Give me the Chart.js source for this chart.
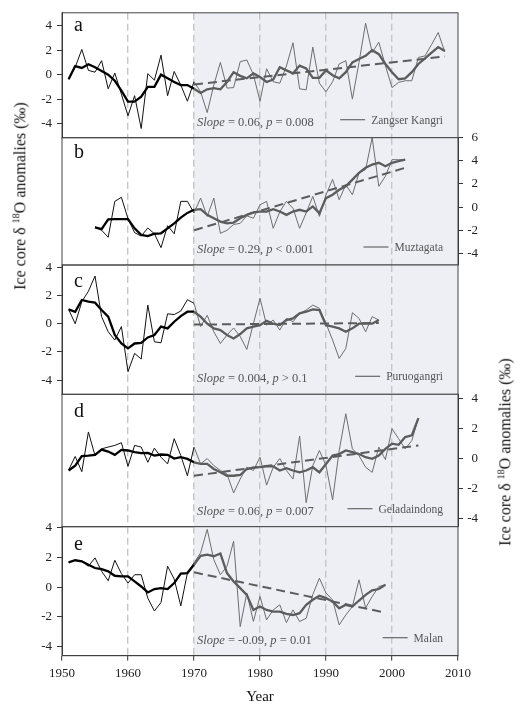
<!DOCTYPE html>
<html>
<head>
<meta charset="utf-8">
<script src="https://cdn.jsdelivr.net/npm/chart.js@4.4.1/dist/chart.umd.min.js"></script>
<style>
  body { margin: 0; background: #fff; }
  #wrap { position: relative; width: 520px; height: 709px; }
  #wrap canvas { position: absolute; left: 0; top: 0; }
  .ytitle {
    position: absolute; white-space: nowrap; color: #111;
    font-family: "Liberation Serif", serif; font-size: 16px;
    transform: translate(-50%, -50%) rotate(-90deg);
  }
  .ytitle sup { font-size: 10px; }
</style>
</head>
<body>
<div id="wrap">
  <canvas id="pa" width="520" height="709"></canvas>
  <canvas id="pb" width="520" height="709"></canvas>
  <canvas id="pc" width="520" height="709"></canvas>
  <canvas id="pd" width="520" height="709"></canvas>
  <canvas id="pe" width="520" height="709"></canvas>
  <div class="ytitle" style="left:20px;top:196px">Ice core δ&nbsp;<sup>18</sup>O anomalies (‰)</div>
  <div class="ytitle" style="left:505px;top:452px">Ice core δ&nbsp;<sup>18</sup>O anomalies (‰)</div>
</div>
<script>
// years on the x axis
const decades = [1950, 1960, 1970, 1980, 1990, 2000, 2010];
const shadeFrom = 1970;

// a - Zangser Kangri, 1951-2008
const startA = 1951;
const thinA = [-0.37, 0.6, 2.06, 0.35, 0.2, 1.14, -1.16, 0.13, -1.6, -3.36,
  -1.72, -4.4, 0.08, -0.45, 1.59, -1.72, 0.26, -0.85, -2.17, -0.58,
  -1.4, -3.1, -0.85, 1.0, -1.1, -1.06, 1.06, 1.2, 0.0, -2.17,
  0.48, -0.58, -0.7, 0.7, 2.6, -1.16, -1.24, 2.25, -0.7, -1.4,
  -0.58, 0.87, 1.14, -2.0, 1.0, 4.2, 1.8, 2.65, 0.74, -1.06,
  -0.63, -0.5, -0.5, 1.4, 1.53, 2.46, 3.44, 1.85];
const smoothA = [-0.37, 0.7, 0.55, 0.85, 0.6, 0.3, 0.0, -0.5, -1.3, -2.2,
  -2.2, -1.8, -1.0, -1.0, 0.0, -0.3, -0.6, -0.85, -0.85, -1.16,
  -1.5, -1.2, -1.1, -1.2, -0.6, 0.2, -0.1, -0.3, 0.1, -0.2,
  -0.6, -0.4, 0.6, 0.35, 0.1, 0.74, 0.5, -0.26, -0.26, 0.35,
  -0.05, -0.3, 0.2, 1.0, 1.27, 1.53, 2.0, 1.67, 0.87, 0.2,
  -0.37, -0.3, 0.2, 0.87, 1.32, 1.8, 2.25, 1.93];
const trendA = [-0.8, 1.48];
const ticksA = [-4, -2, 0, 2, 4];

// b - Muztagata, 1955-2002
const startB = 1955;
const thinB = [-1.7, -2.0, -2.6, 0.5, 0.85, -1.0, -2.2, -2.5, -1.8, -2.3,
  -3.5, -1.6, -2.3, 0.5, 0.5, -0.5, 0.78, -0.8, 0.78, -2.26,
  -2.0, -1.5, -1.4, -0.75, -0.96, 0.2, 0.5, -1.83, -0.4, 0.5,
  -0.1, -1.83, -0.5, 0.93, -0.8, 1.07, 2.4, 0.64, 1.94, 1.07,
  2.96, 3.25, 6.0, 1.8, 2.67, 4.1, 4.1, 4.1];
const smoothB = [-1.74, -1.9, -1.05, -1.04, -1.04, -1.04, -1.83, -2.4, -2.5, -2.3,
  -2.26, -1.83, -1.4, -0.9, -0.5, -0.23, -0.17, -0.67, -0.96, -1.25,
  -1.4, -1.33, -0.96, -0.67, -0.46, -0.38, -0.38, -0.17, -0.38, -0.67,
  -0.38, -0.23, -0.38, 0.06, -0.52, 0.78, 1.07, 1.5, 1.8, 2.38,
  2.96, 3.4, 3.68, 3.83, 3.54, 3.83, 3.97, 4.1];
const trendB = [-2.0, 3.4];
const ticksB = [-4, -2, 0, 2, 4, 6];

// c - Puruogangri, 1951-1998
const startC = 1951;
const thinC = [1.02, 0.0, 1.56, 2.3, 3.38, 0.5, -0.57, -1.16, -0.2, -3.4,
  -2.1, -2.5, 1.32, -1.28, -1.35, 0.7, 0.65, 0.9, 1.7, 1.45,
  -0.2, 0.6, -0.57, -1.4, -0.8, -0.3, -0.9, -1.82, 0.0, 1.8,
  -0.1, 0.26, -0.45, 0.38, 0.14, 0.73, 0.97, 1.32, 1.09, 0.02,
  -1.16, -2.46, -1.75, 0.78, 0.38, -0.57, 0.5, 0.26];
const smoothC = [1.02, 0.85, 1.68, 1.56, 1.49, 0.97, 0.5, -0.8, -1.39, -1.75,
  -1.4, -1.35, -0.97, -0.8, -0.2, -0.33, 0.14, 0.54, 0.85, 0.85,
  0.5, 0.0, -0.33, -0.45, -0.8, -1.04, -0.73, -0.33, -0.2, -0.1,
  0.2, 0.0, -0.1, 0.26, 0.38, 0.73, 0.85, 1.02, 0.97, -0.1,
  -0.2, -0.33, -0.57, -0.33, 0.0, 0.0, 0.0, 0.26];
const trendC = [-0.06, 0.05];
const ticksC = [-4, -2, 0, 2, 4];

// d - Geladaindong, 1951-2004
const startD = 1951;
const thinD = [-0.77, 0.14, -0.88, 1.78, 0.2, 0.65, 0.77, 0.88, 1.06, -0.52,
  0.88, 0.77, -0.25, 0.7, 0.09, -0.36, 1.33, 0.2, -1.15, 0.77,
  -0.36, 0.0, -0.47, -0.8, -1.04, -2.3, -1.37, -0.58, -0.8, 0.09,
  -1.78, -0.58, 0.0, -0.8, -1.37, 1.5, -2.95, -0.47, 0.54, -0.47,
  -2.77, 0.54, 3.0, 0.65, 0.2, -0.58, -0.92, 0.77, -0.07, 2.0,
  1.33, 0.65, 1.2, 2.7];
const smoothD = [-0.8, -0.47, 0.16, 0.2, 0.25, 0.6, 0.47, 0.25, 0.58, 0.54,
  0.43, 0.36, 0.38, 0.2, 0.27, 0.25, 0.0, 0.09, -0.02, -0.25,
  -0.36, -0.36, -0.7, -0.92, -1.15, -1.15, -1.1, -0.7, -0.6, -0.58,
  -0.52, -0.52, -0.8, -0.65, -0.8, -0.92, -0.8, -0.58, -0.92, -0.36,
  0.2, 0.3, 0.54, 0.43, 0.3, 0.09, -0.02, 0.2, 0.65, 1.0,
  0.92, 1.44, 1.55, 2.7];
const trendD = [-1.15, 0.88];
const ticksD = [-4, -2, 0, 2, 4];

// e - Malan, 1951-1999
const startE = 1951;
const thinE = [1.66, 1.8, 1.73, 1.4, 1.96, 1.06, 0.43, 1.8, 0.9, 0.27,
  0.83, 0.83, -0.74, -1.6, -1.03, 1.4, 0.54, -1.26, 0.94, 1.62,
  2.3, 3.87, 1.84, 0.83, 1.4, 3.08, -2.65, -0.4, -2.3, -0.63,
  -2.2, -1.53, -1.19, -2.38, -1.53, -2.31, -2.09, -0.5, 0.6, -0.4,
  -0.85, -2.54, -1.87, -1.3, 0.49, -1.4, -0.63, 0.04, 0.16];
const smoothE = [1.66, 1.8, 1.73, 1.5, 1.28, 1.2, 1.06, 0.76, 0.72, 0.72,
  0.38, 0.04, -0.36, -0.13, -0.07, -0.13, 0.27, 0.9, 0.94, 1.5,
  2.1, 2.18, 2.07, 2.25, 0.94, 0.38, -0.07, -0.52, -1.53, -1.3,
  -1.53, -1.64, -1.64, -1.8, -1.87, -1.75, -1.19, -0.85, -0.58, -0.74,
  -0.97, -1.42, -1.19, -1.3, -0.9, -0.52, -0.22, -0.13, 0.16];
const trendE = [0.99, -1.71];
const ticksE = [-4, -2, 0, 2, 4];

const letters = ['a', 'b', 'c', 'd', 'e'];
const sites = ['Zangser Kangri', 'Muztagata', 'Puruogangri', 'Geladaindong', 'Malan'];
const slopes = ['0.06', '0.29', '0.004', '0.06', '-0.09'];
const pTexts = ['= 0.008', '< 0.001', '> 0.1', '= 0.007', '= 0.01'];

// layout of the five stacked panels
const panels = [
  { id: 'pa', start: startA, thin: thinA, smooth: smoothA, trend: trendA, ticks: ticksA, min: -5.15, max: 5.05, side: 'left',  top: 9,     bottom: 137.7, dy: 18 },
  { id: 'pb', start: startB, thin: thinB, smooth: smoothB, trend: trendB, ticks: ticksB, min: -5.0,  max: 6.0,  side: 'right', top: 137.7, bottom: 265,   dy: 20 },
  { id: 'pc', start: startC, thin: thinC, smooth: smoothC, trend: trendC, ticks: ticksC, min: -5.0,  max: 4.16, side: 'left',  top: 265,   bottom: 394.3, dy: 22 },
  { id: 'pd', start: startD, thin: thinD, smooth: smoothD, trend: trendD, ticks: ticksD, min: -4.56, max: 4.3,  side: 'right', top: 394.3, bottom: 526.7, dy: 23 },
  { id: 'pe', start: startE, thin: thinE, smooth: smoothE, trend: trendE, ticks: ticksE, min: -4.6,  max: 4.05, side: 'left',  top: 526.7, bottom: 655.7, dy: 23 }
];

const SERIF = '"Liberation Serif", "Times New Roman", serif';
const GREY = '#5c5c5c';

const decor = {
  id: 'decor',
  beforeDraw(chart) {
    const { ctx, chartArea: a, scales: { x } } = chart;
    const x0 = x.getPixelForValue(shadeFrom);
    ctx.save();
    ctx.fillStyle = '#edeff5';
    ctx.fillRect(x0, a.top, a.right - x0, a.bottom - a.top);
    ctx.restore();
  },
  afterDraw(chart, args, o) {
    const { ctx, chartArea: a, scales: { x } } = chart;
    ctx.save();
    ctx.strokeStyle = '#444';
    ctx.lineWidth = 1;
    ctx.strokeRect(a.left, a.top, a.right - a.left, a.bottom - a.top);

    ctx.fillStyle = '#111';
    ctx.font = '20px ' + SERIF;
    ctx.textBaseline = 'alphabetic';
    ctx.fillText(o.letter, a.left + 12, a.top + o.dy);

    // slope annotation
    const parts = [['Slope', true], [' = ' + o.slope + ', ', false], ['p', true], [' ' + o.p, false]];
    let tx = x.getPixelForValue(shadeFrom) + 3;
    const ty = a.bottom - 12;
    ctx.fillStyle = '#555';
    parts.forEach(([t, it]) => {
      ctx.font = (it ? 'italic ' : '') + '12.5px ' + SERIF;
      ctx.fillText(t, tx, ty);
      tx += ctx.measureText(t).width;
    });

    // legend
    ctx.font = '11.5px ' + SERIF;
    const w = ctx.measureText(o.site).width;
    const tr = a.right - 15;
    ctx.fillText(o.site, tr - w, a.bottom - 14);
    ctx.strokeStyle = '#666';
    ctx.lineWidth = 1.2;
    ctx.beginPath();
    ctx.moveTo(tr - w - 31, a.bottom - 18);
    ctx.lineTo(tr - w - 6, a.bottom - 18);
    ctx.stroke();
    ctx.restore();
  }
};

function splitColor(pre, post) {
  return ctx => (ctx.p0.parsed.x >= shadeFrom ? post : pre);
}

panels.forEach((p, i) => {
  const last = p.start + p.thin.length - 1;
  const isBottom = i === panels.length - 1;
  const isLeft = p.side === 'left';
  const tickFont = { family: SERIF, size: 13 };

  new Chart(document.getElementById(p.id), {
    type: 'line',
    data: {
      datasets: [
        {
          data: [{ x: shadeFrom, y: p.trend[0] }, { x: last, y: p.trend[1] }],
          borderColor: GREY, borderWidth: 2, borderDash: [9, 5], pointRadius: 0
        },
        {
          data: p.smooth.map((v, k) => ({ x: p.start + k, y: v })),
          borderWidth: 2.3, pointRadius: 0,
          segment: { borderColor: splitColor('#000', GREY) }
        },
        {
          data: p.thin.map((v, k) => ({ x: p.start + k, y: v })),
          borderWidth: 1, pointRadius: 0,
          segment: { borderColor: splitColor('#111', '#6e6e6e') }
        }
      ]
    },
    options: {
      responsive: false,
      animation: false,
      layout: {
        padding: {
          top: p.top,
          bottom: isBottom ? 0 : 709 - p.bottom,
          left: isLeft ? 0 : 62,
          right: isLeft ? 62 : 42
        }
      },
      plugins: {
        legend: { display: false },
        tooltip: { enabled: false },
        decor: { letter: letters[i], site: sites[i], slope: slopes[i], p: pTexts[i], dy: p.dy }
      },
      scales: {
        x: {
          type: 'linear', min: 1950, max: 2010,
          afterBuildTicks: s => { s.ticks = decades.map(v => ({ value: v })); },
          afterFit: s => { s.height = isBottom ? 709 - p.bottom : 0; },
          grid: {
            color: c => (c.tick && (c.tick.value === 1950 || c.tick.value === 2010) ? 'rgba(0,0,0,0)' : '#c6c6c6'),
            lineWidth: 1.4,
            drawTicks: isBottom, tickLength: 5, tickColor: '#333', tickWidth: 1, tickBorderDash: [0, 0]
          },
          border: { display: isBottom, color: '#333', dash: [7, 4] },
          ticks: {
            display: isBottom, font: tickFont, color: '#222', padding: 5, maxRotation: 0,
            callback: v => String(v)
          },
          title: {
            display: isBottom, text: 'Year', color: '#111',
            font: { family: SERIF, size: 15 }, padding: { top: 0, bottom: 3 }
          }
        },
        y: {
          position: p.side, min: p.min, max: p.max,
          afterBuildTicks: s => { s.ticks = p.ticks.map(v => ({ value: v })); },
          afterFit: s => { s.width = isLeft ? 62 : 20; },
          grid: { drawOnChartArea: false, drawTicks: true, tickLength: 5, color: '#333' },
          border: { display: true, color: '#333' },
          ticks: {
            font: tickFont, color: '#222',
            padding: isLeft ? 5 : 4,
            crossAlign: isLeft ? 'near' : 'far'
          }
        }
      }
    },
    plugins: [decor]
  });
});
</script>
</body>
</html>
